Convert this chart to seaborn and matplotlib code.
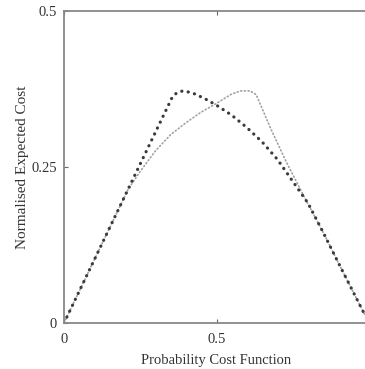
import matplotlib
matplotlib.use("Agg")
import matplotlib.pyplot as plt
import seaborn as sns
import pandas as pd

# Cost curves of two classifiers: probability cost function vs normalised expected cost
dark_x = [0.0, 0.10, 0.20, 0.30, 0.355, 0.37, 0.39, 0.42, 0.46, 0.50, 0.55, 0.60,
          0.65, 0.70, 0.75, 0.80, 0.85, 0.90, 1.00]
dark_y = [0.0, 0.102, 0.204, 0.306, 0.362, 0.369, 0.372, 0.369, 0.360, 0.349, 0.333,
          0.313, 0.290, 0.262, 0.227, 0.192, 0.145, 0.096, 0.0]

light_x = [0.0, 0.10, 0.21, 0.25, 0.30, 0.35, 0.40, 0.45, 0.50, 0.55, 0.58, 0.61, 0.63,
           0.68, 0.73, 0.79, 0.85, 0.90, 1.00]
light_y = [0.0, 0.102, 0.214, 0.243, 0.276, 0.302, 0.321, 0.338, 0.352, 0.367, 0.372,
           0.372, 0.366, 0.309, 0.257, 0.200, 0.145, 0.096, 0.0]

x_ticks = [0, 0.5]
x_tick_labels = ["0", "0.5"]
y_ticks = [0, 0.25, 0.5]
y_tick_labels = ["0", "0.25", "0.5"]

sns.set_style("ticks")
plt.rcParams["font.family"] = ["Liberation Serif", "DejaVu Serif"]

W, H = 365, 369
fig = plt.figure(figsize=(W / 100, H / 100), dpi=100)
left, right, top, bottom = 64, 369, 11, 323
ax = fig.add_axes([left / W, 1 - bottom / H, (right - left) / W, (bottom - top) / H])

light_df = pd.DataFrame({"pcf": light_x, "cost": light_y})
dark_df = pd.DataFrame({"pcf": dark_x, "cost": dark_y})

sns.lineplot(data=light_df, x="pcf", y="cost", ax=ax, sort=False, color="#a0a0a0",
             lw=1.2, linestyle=(0, (0.6, 1.6)), dash_capstyle="round")
sns.lineplot(data=dark_df, x="pcf", y="cost", ax=ax, sort=False, color="#3a3a3a",
             lw=2.3, linestyle=(0, (0.05, 2.0)), dash_capstyle="round")

ax.set_xlim(0, 1)
ax.set_ylim(0, 0.5)
ax.set_xticks(x_ticks, x_tick_labels)
ax.set_yticks(y_ticks, y_tick_labels)
ax.tick_params(direction="in", length=3, width=0.8, color="#666666",
               top=True, right=True, labelsize=10.5, labelcolor="#333333")
ax.tick_params(axis="x", pad=7)
ax.tick_params(axis="y", pad=5)

for s in ax.spines.values():
    s.set_color("#888888")
    s.set_linewidth(1.3)
    s.set_visible(True)

ax.set_xlabel("Probability Cost Function", fontsize=10.5, color="#333333", labelpad=6)
ax.set_ylabel("Normalised Expected Cost", fontsize=11, color="#333333", labelpad=2)

fig.savefig("out.png", dpi=100)
